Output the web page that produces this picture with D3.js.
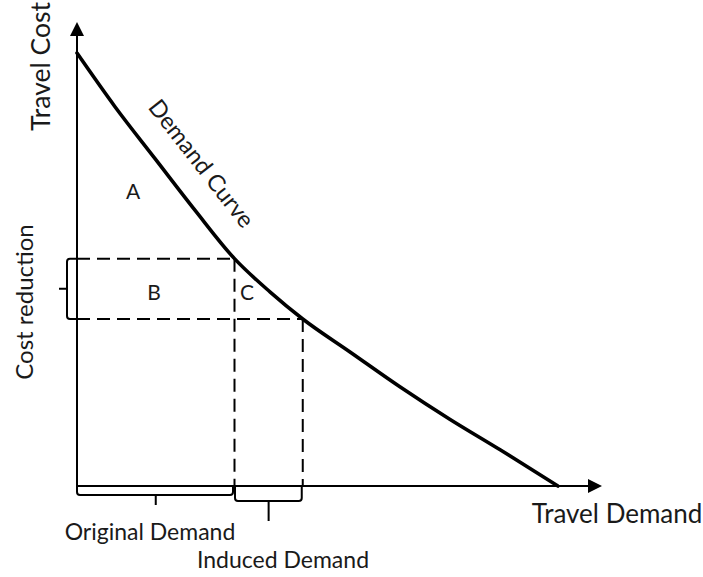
<!DOCTYPE html>
<html>
<head>
<meta charset="utf-8">
<script src="https://cdn.jsdelivr.net/npm/d3@7"></script>
<style>
  html, body { margin: 0; padding: 0; background: #fff; }
  svg { display: block; }
  text { font-family: Lato, "Open Sans", sans-serif; fill: #1a1a1a; }
</style>
</head>
<body>
<svg id="chart" width="703" height="577"></svg>
<script>
// ---- data (demand units 0-100, cost units 0-100) ----
const curveDemand = [0, 7.2, 14.9, 22.5, 30, 36.8, 43, 52, 61.5, 71, 80.6, 91.6];
const curveCost   = [93.3, 81.8, 70.5, 59.4, 49, 41.8, 36, 28.9, 21.4, 14.4, 7.8, 0];
const originalDemand = 30;
const inducedDemandEnd = 43;
const originalCost = 49;
const reducedCost = 36;
const areaLabels = ["A", "B", "C"];
const axisLabels = ["Travel Cost", "Travel Demand"];
const braceLabels = ["Cost reduction", "Original Demand", "Induced Demand"];
const curveLabel = "Demand Curve";

const svg = d3.select("#chart");
const x = d3.scaleLinear().domain([0, 100]).range([77, 602]);
const y = d3.scaleLinear().domain([0, 100]).range([486, 22]);

// axes with arrows
const ah = 14, aw = 7;
svg.append("line").attr("x1", x(0)).attr("y1", y(0)).attr("x2", x(0)).attr("y2", y(100) + ah)
  .attr("stroke", "#000").attr("stroke-width", 2);
svg.append("line").attr("x1", x(0)).attr("y1", y(0)).attr("x2", x(100) - ah).attr("y2", y(0))
  .attr("stroke", "#000").attr("stroke-width", 2);
svg.append("path")
  .attr("d", `M${x(0)},${y(100)} L${x(0) - aw},${y(100) + ah} L${x(0) + aw},${y(100) + ah} Z`)
  .attr("fill", "#000");
svg.append("path")
  .attr("d", `M${x(100)},${y(0)} L${x(100) - ah},${y(0) - aw} L${x(100) - ah},${y(0) + aw} Z`)
  .attr("fill", "#000");

// dashed guides
const dash = "13,7";
const guides = [
  [0, originalCost, originalDemand, originalCost],
  [0, reducedCost, inducedDemandEnd, reducedCost],
  [originalDemand, originalCost, originalDemand, 0],
  [inducedDemandEnd, reducedCost, inducedDemandEnd, 0]
];
svg.selectAll(".guide").data(guides).enter().append("line")
  .attr("class", "guide")
  .attr("x1", d => x(d[0])).attr("y1", d => y(d[1]))
  .attr("x2", d => x(d[2])).attr("y2", d => y(d[3]))
  .attr("stroke", "#000").attr("stroke-width", 2).attr("stroke-dasharray", dash);

// demand curve
const pts = curveDemand.map((d, i) => [d, curveCost[i]]);
svg.append("path")
  .datum(pts)
  .attr("d", d3.line().x(d => x(d[0])).y(d => y(d[1])).curve(d3.curveMonotoneX))
  .attr("fill", "none").attr("stroke", "#000").attr("stroke-width", 3.6)
  .attr("stroke-linecap", "round");

// braces
const r = 3;
function hBrace(x0, x1, yTop, yBot, nubX, nubLen) {
  return `M${x0},${yTop} L${x0},${yBot - r} Q${x0},${yBot} ${x0 + r},${yBot} L${x1 - r},${yBot} Q${x1},${yBot} ${x1},${yBot - r} L${x1},${yTop} M${nubX},${yBot} L${nubX},${yBot + nubLen}`;
}
function vBrace(xRight, xLeft, y0, y1, nubY, nubLen) {
  return `M${xRight},${y0} L${xLeft + r},${y0} Q${xLeft},${y0} ${xLeft},${y0 + r} L${xLeft},${y1 - r} Q${xLeft},${y1} ${xLeft + r},${y1} L${xRight},${y1} M${xLeft},${nubY} L${xLeft - nubLen},${nubY}`;
}
svg.append("path")
  .attr("d", vBrace(x(0), x(0) - 10, y(originalCost), y(reducedCost), (y(originalCost) + y(reducedCost)) / 2, 8))
  .attr("fill", "none").attr("stroke", "#000").attr("stroke-width", 2);
svg.append("path")
  .attr("d", hBrace(x(0), x(originalDemand) - 1.5, y(0), y(0) + 9, (x(0) + x(originalDemand)) / 2, 10))
  .attr("fill", "none").attr("stroke", "#000").attr("stroke-width", 2);
svg.append("path")
  .attr("d", hBrace(x(originalDemand) + 0.5, x(inducedDemandEnd) - 1, y(0), y(0) + 15, (x(originalDemand) + x(inducedDemandEnd)) / 2, 20))
  .attr("fill", "none").attr("stroke", "#000").attr("stroke-width", 2);

// texts
svg.append("text").text(axisLabels[0])
  .attr("transform", "translate(50,66.5) rotate(-90)")
  .attr("text-anchor", "middle").attr("font-size", 26.5);
svg.append("text").text(braceLabels[0])
  .attr("transform", "translate(33,302) rotate(-90)")
  .attr("text-anchor", "middle").attr("font-size", 24);
svg.append("text").text(axisLabels[1])
  .attr("x", 617).attr("y", 523)
  .attr("text-anchor", "middle").attr("font-size", 26);
svg.append("text").text(braceLabels[1])
  .attr("x", 150).attr("y", 540)
  .attr("text-anchor", "middle").attr("font-size", 23);
svg.append("text").text(braceLabels[2])
  .attr("x", 283).attr("y", 568)
  .attr("text-anchor", "middle").attr("font-size", 23);
svg.append("text").text(curveLabel)
  .attr("transform", "translate(202,163) rotate(52)")
  .attr("text-anchor", "middle").attr("dominant-baseline", "central").attr("font-size", 23.5);

const labelPos = [[133, 190], [154, 291], [247, 291]];
svg.selectAll(".area").data(areaLabels).enter().append("text")
  .attr("class", "area")
  .attr("x", (d, i) => labelPos[i][0]).attr("y", (d, i) => labelPos[i][1])
  .attr("text-anchor", "middle").attr("dominant-baseline", "central")
  .attr("font-size", 21).text(d => d);
</script>
</body>
</html>
